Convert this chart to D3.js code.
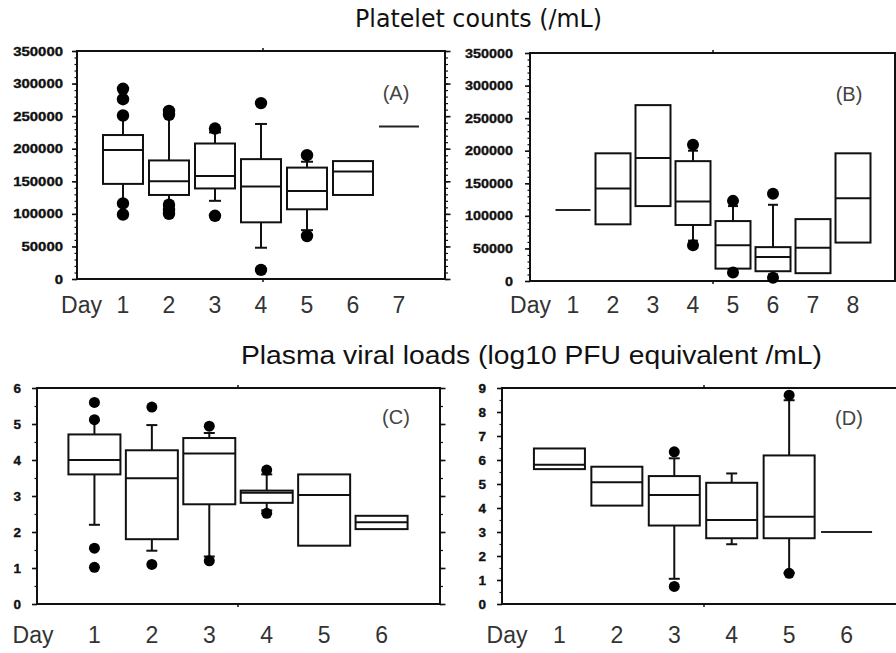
<!DOCTYPE html>
<html><head><meta charset="utf-8">
<script src="https://cdn.jsdelivr.net/npm/d3@7"></script>
<style>body{margin:0;background:#fff} svg{display:block}</style>
</head><body>
<svg id="c" width="896" height="653"></svg>
<script>
// ---------- Data ----------
// Panel A: platelet counts (/mL)
const aDays = [1, 2, 3, 4, 5, 6, 7];
const aQ1  = [146000, 129000, 139000,  87000, 107000, 129000, 234000];
const aMed = [198000, 150000, 158000, 142000, 135000, 165000, 234000];
const aQ3  = [221000, 182000, 208000, 184000, 171000, 181000, 234000];
const aLo  = [117000, 112000, 120000,  48000,  75000, null, null];
const aHi  = [250000, 252000, 225000, 238000, 180000, null, null];
const aOut = [[292000, 276000, 251000, 116000, 99000], [258000, 252000, 114000, 106000, 100000], [231000, 97000], [270000, 14000], [190000, 66000], [], []];

// Panel B: platelet counts (/mL)
const bDays = [1, 2, 3, 4, 5, 6, 7, 8];
const bQ1  = [109000,  87000, 115000,  86000, 19000, 15000, 12000,  59000];
const bMed = [109000, 142000, 189000, 122000, 55000, 37000, 51000, 127000];
const bQ3  = [109000, 196000, 270000, 184000, 92000, 52000, 95000, 196000];
const bLo  = [null, null, null, 62000, 19000, 10000, null, null];
const bHi  = [null, null, null, 200000, 115000, 117000, null, null];
const bOut = [[], [], [], [209000, 55000], [123000, 13000], [134000, 5000], [], []];

// Panel C: plasma viral loads (log10 PFU equivalent /mL)
const cDays = [1, 2, 3, 4, 5, 6];
const cQ1  = [3.60, 1.80, 2.77, 2.81, 1.62, 2.08];
const cMed = [4.00, 3.49, 4.18, 3.09, 3.03, 2.27];
const cQ3  = [4.71, 4.27, 4.61, 3.15, 3.60, 2.45];
const cLo  = [2.20, 1.48, 1.32, 2.60, null, null];
const cHi  = [5.10, 4.97, 4.75, 3.60, null, null];
const cOut = [[5.60, 5.12, 1.55, 1.02], [5.47, 1.10], [4.94, 1.20], [3.72, 2.52], [], []];

// Panel D: plasma viral loads (log10 PFU equivalent /mL)
const dDays = [1, 2, 3, 4, 5, 6];
const dQ1  = [5.62, 4.10, 3.27, 2.74, 2.74, 3.00];
const dMed = [5.80, 5.07, 4.54, 3.50, 3.64, 3.00];
const dQ3  = [6.48, 5.72, 5.33, 5.05, 6.19, 3.00];
const dLo  = [null, null, 1.05, 2.49, 1.30, null];
const dHi  = [null, null, 6.07, 5.44, 8.49, null];
const dOut = [[], [], [6.34, 0.73], [], [8.70, 1.28], []];

// Tick values
const plateletTicks = [0, 50000, 100000, 150000, 200000, 250000, 300000, 350000];
const plateletMinor = d3.range(0, 350001, 10000);
const viralTicksC = [0, 1, 2, 3, 4, 5, 6];
const viralTicksD = [0, 1, 2, 3, 4, 5, 6, 7, 8, 9];

const titleTop = "Platelet counts (/mL)";
const titleBottom = "Plasma viral loads (log10 PFU equivalent /mL)";

// ---------- Drawing ----------
const svg = d3.select("#c");
const INK = "#111";

function panel(o) {
  const g = svg.append("g");
  const x = d3.scaleLinear().domain(o.xDom).range(o.xRange);
  const y = d3.scaleLinear().domain(o.yDom).range(o.yRange);
  const yTop = y(o.yDom[1]), yBot = y(o.yDom[0]);

  // frame
  g.append("rect").attr("x", o.frame[0]).attr("y", yTop)
    .attr("width", o.frame[1] - o.frame[0]).attr("height", yBot - yTop)
    .attr("fill", "#fff").attr("stroke", INK).attr("stroke-width", 2);
  // small marks at centre of top and bottom edges
  g.append("line").attr("x1", o.midMark).attr("x2", o.midMark)
    .attr("y1", yTop - 3).attr("y2", yTop + 1).attr("stroke", INK).attr("stroke-width", 1.5);
  g.append("line").attr("x1", o.midMark).attr("x2", o.midMark)
    .attr("y1", yBot - 1).attr("y2", yBot + 3).attr("stroke", INK).attr("stroke-width", 1.5);

  // left axis minor + major ticks
  const axL = g.append("g").attr("transform", `translate(${o.frame[0]},0)`);
  axL.append("g").call(d3.axisLeft(y).tickValues(o.minor).tickSize(2.5).tickFormat("").tickSizeOuter(0))
    .call(s => s.select(".domain").remove())
    .selectAll("line").attr("stroke", INK).attr("stroke-width", 1.2);
  const major = axL.append("g").call(d3.axisLeft(y).tickValues(o.ticks).tickSize(5)
      .tickPadding(o.labelPad).tickFormat(o.fmt).tickSizeOuter(0))
    .call(s => s.select(".domain").remove());
  major.selectAll("line").attr("stroke", INK).attr("stroke-width", 1.6);
  major.selectAll("text")
    .attr("font-family", "Liberation Sans, Arial, sans-serif")
    .attr("font-weight", "bold").attr("font-size", 12.5).attr("fill", "#111")
    .attr("stroke", "#111").attr("stroke-width", 0.35)
    .attr("textLength", d => String(o.fmt(d)).length * o.digitW)
    .attr("lengthAdjust", "spacingAndGlyphs");

  // right axis (if visible)
  if (o.rightAxis) {
    const axR = g.append("g").attr("transform", `translate(${o.frame[1]},0)`);
    axR.append("g").call(d3.axisRight(y).tickValues(o.minor).tickSize(3).tickFormat("").tickSizeOuter(0))
      .call(s => s.select(".domain").remove())
      .selectAll("line").attr("stroke", INK).attr("stroke-width", 1.2);
    axR.append("g").call(d3.axisRight(y).tickValues(o.ticks).tickSize(5.5).tickFormat("").tickSizeOuter(0))
      .call(s => s.select(".domain").remove())
      .selectAll("line").attr("stroke", INK).attr("stroke-width", 1.6);
  }

  // boxes
  const n = o.days.length;
  const w = o.boxW, cap = o.capW;
  for (let i = 0; i < n; i++) {
    const cx = x(o.days[i]);
    const bg = g.append("g");
    if (o.hi[i] != null) {
      bg.append("line").attr("x1", cx).attr("x2", cx).attr("y1", y(o.q3[i])).attr("y2", y(o.hi[i]))
        .attr("stroke", INK).attr("stroke-width", 2);
      bg.append("line").attr("x1", cx - cap / 2).attr("x2", cx + cap / 2).attr("y1", y(o.hi[i])).attr("y2", y(o.hi[i]))
        .attr("stroke", INK).attr("stroke-width", 2);
    }
    if (o.lo[i] != null) {
      bg.append("line").attr("x1", cx).attr("x2", cx).attr("y1", y(o.q1[i])).attr("y2", y(o.lo[i]))
        .attr("stroke", INK).attr("stroke-width", 2);
      bg.append("line").attr("x1", cx - cap / 2).attr("x2", cx + cap / 2).attr("y1", y(o.lo[i])).attr("y2", y(o.lo[i]))
        .attr("stroke", INK).attr("stroke-width", 2);
    }
    if (o.q1[i] === o.q3[i]) {
      bg.append("line").attr("x1", cx - w / 2).attr("x2", cx + w / 2)
        .attr("y1", y(o.med[i])).attr("y2", y(o.med[i]))
        .attr("stroke", "#222").attr("stroke-width", 2);
    } else {
      bg.append("rect").attr("x", cx - w / 2).attr("y", y(o.q3[i]))
        .attr("width", w).attr("height", y(o.q1[i]) - y(o.q3[i]))
        .attr("fill", "#fff").attr("stroke", INK).attr("stroke-width", 2);
      bg.append("line").attr("x1", cx - w / 2).attr("x2", cx + w / 2)
        .attr("y1", y(o.med[i])).attr("y2", y(o.med[i]))
        .attr("stroke", INK).attr("stroke-width", 2);
    }
    bg.selectAll("circle").data(o.out[i]).join("circle")
      .attr("cx", cx).attr("cy", d => y(d)).attr("r", o.dotR).attr("fill", "#000");
  }

  // x labels
  const lab = g.append("g").attr("font-family", "Liberation Sans, Arial, sans-serif")
    .attr("font-size", 23).attr("fill", "#333");
  lab.append("text").attr("x", x(o.days[0]) - o.dayGap).attr("y", o.labelY)
    .attr("text-anchor", "end").text("Day");
  lab.selectAll("text.d").data(o.days).join("text").attr("class", "d")
    .attr("x", d => x(d)).attr("y", o.labelY).attr("text-anchor", "middle").text(d => d);

  // panel letter
  g.append("text").attr("x", o.letterPos[0]).attr("y", o.letterPos[1])
    .attr("text-anchor", "middle").attr("font-family", "Liberation Sans, Arial, sans-serif")
    .attr("font-size", 20).attr("fill", "#444").text(o.letter);
}

const fmtInt = d3.format("d");

panel({ days: aDays, q1: aQ1, med: aMed, q3: aQ3, lo: aLo, hi: aHi, out: aOut,
  xDom: [0, 8], xRange: [77, 445], yDom: [0, 350000], yRange: [279, 51],
  frame: [77, 445], midMark: 263, rightAxis: true,
  ticks: plateletTicks, minor: plateletMinor, fmt: fmtInt, labelPad: 9, digitW: 8.3,
  boxW: 40, capW: 12, dotR: 6.2, dayGap: 21, labelY: 313, letter: "(A)", letterPos: [396, 100] });

panel({ days: bDays, q1: bQ1, med: bMed, q3: bQ3, lo: bLo, hi: bHi, out: bOut,
  xDom: [0, 9], xRange: [533, 893], yDom: [0, 350000], yRange: [281, 53],
  frame: [530, 895], midMark: 713, rightAxis: false,
  ticks: plateletTicks, minor: plateletMinor, fmt: fmtInt, labelPad: 12, digitW: 8.0,
  boxW: 35, capW: 10, dotR: 6, dayGap: 22, labelY: 313, letter: "(B)", letterPos: [849, 101] });

panel({ days: cDays, q1: cQ1, med: cMed, q3: cQ3, lo: cLo, hi: cHi, out: cOut,
  xDom: [0, 7], xRange: [37, 439], yDom: [0, 6], yRange: [604, 388],
  frame: [37, 440], midMark: 238, rightAxis: true,
  ticks: viralTicksC, minor: d3.range(0, 6.01, 0.5), fmt: fmtInt, labelPad: 11, digitW: 7.5,
  boxW: 52, capW: 11, dotR: 5.5, dayGap: 41, labelY: 643, letter: "(C)", letterPos: [396, 424] });

panel({ days: dDays, q1: dQ1, med: dMed, q3: dQ3, lo: dLo, hi: dHi, out: dOut,
  xDom: [0, 7], xRange: [502, 904], yDom: [0, 9], yRange: [604, 388],
  frame: [502, 912], midMark: 704, rightAxis: false,
  ticks: viralTicksD, minor: d3.range(0, 9.01, 0.5), fmt: fmtInt, labelPad: 11, digitW: 7.5,
  boxW: 51, capW: 11, dotR: 5.5, dayGap: 32, labelY: 643, letter: "(D)", letterPos: [849, 425] });

// titles
svg.append("text").attr("x", 355).attr("y", 27)
  .attr("font-family", "DejaVu Sans Condensed, Liberation Sans Narrow, sans-serif")
  .attr("font-size", 25).attr("fill", "#111")
  .attr("textLength", 247).attr("lengthAdjust", "spacingAndGlyphs").text(titleTop);
svg.append("text").attr("x", 241).attr("y", 364)
  .attr("font-family", "Liberation Sans, Arial, sans-serif")
  .attr("font-size", 25).attr("fill", "#111")
  .attr("textLength", 581).attr("lengthAdjust", "spacingAndGlyphs").text(titleBottom);
</script>
</body></html>
